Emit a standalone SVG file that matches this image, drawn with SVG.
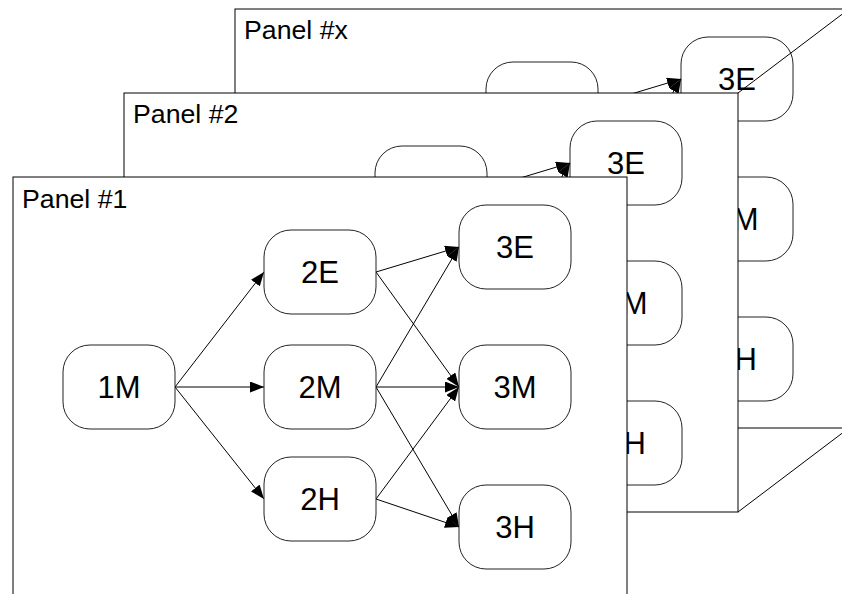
<svg xmlns="http://www.w3.org/2000/svg" width="842" height="594" viewBox="0 0 842 594">
  <defs>
    <marker id="arr" markerUnits="userSpaceOnUse" markerWidth="14" markerHeight="11" refX="14" refY="5.5" orient="auto">
      <path d="M0,0 L14,5.5 L0,11 z" fill="#000"/>
    </marker>
    <style>
      .panel { fill: #fff; stroke: #000; stroke-width: 1; }
      .ptext { font-family: "Liberation Sans", Arial, sans-serif; font-size: 26.7px; fill: #000; }
      .node rect { fill: #fff; stroke: #222; stroke-width: 1; }
      .node text { font-family: "Liberation Sans", Arial, sans-serif; font-size: 31px; fill: #000; text-anchor: middle; }
      .edge { stroke: #000; stroke-width: 1; fill: none; marker-end: url(#arr); }
      .persp { stroke: #000; stroke-width: 1; fill: none; }
    </style>
  </defs>

  <!-- Panel #x (back) -->
  <g id="panel-x">
    <rect class="panel" x="235" y="9" width="614" height="419"/>
    <text class="ptext" x="244" y="39">Panel #x</text>
    <g id="px-2E" class="node"><rect x="486" y="62" width="112" height="84" rx="27" ry="27"/></g>
    <g id="px-3E" class="node"><rect x="681" y="37" width="112" height="84" rx="27" ry="27"/><text x="737" y="90">3E</text></g>
    <g id="px-3M" class="node"><rect x="681" y="177" width="112" height="84" rx="27" ry="27"/><text x="737" y="230">3M</text></g>
    <g id="px-3H" class="node"><rect x="681" y="317" width="112" height="84" rx="27" ry="27"/><text x="737" y="370">3H</text></g>
    <g id="px-connectors">
      <line class="edge" x1="598" y1="104" x2="681" y2="79"/>
      <line class="edge" x1="598" y1="219" x2="681" y2="79"/>
    </g>
  </g>

  <!-- perspective lines -->
  <g id="perspective">
    <line class="persp" x1="738" y1="93" x2="849" y2="9"/>
    <line class="persp" x1="738" y1="512" x2="849" y2="428"/>
  </g>

  <!-- Panel #2 (middle) -->
  <g id="panel-2">
    <rect class="panel" x="124" y="93" width="614" height="419"/>
    <text class="ptext" x="133" y="123">Panel #2</text>
    <g id="p2-2E" class="node"><rect x="375" y="146" width="112" height="84" rx="27" ry="27"/></g>
    <g id="p2-3E" class="node"><rect x="570" y="121" width="112" height="84" rx="27" ry="27"/><text x="626" y="174">3E</text></g>
    <g id="p2-3M" class="node"><rect x="570" y="261" width="112" height="84" rx="27" ry="27"/><text x="626" y="314">3M</text></g>
    <g id="p2-3H" class="node"><rect x="570" y="401" width="112" height="84" rx="27" ry="27"/><text x="626" y="454">3H</text></g>
    <g id="p2-connectors">
      <line class="edge" x1="487" y1="188" x2="570" y2="163"/>
      <line class="edge" x1="487" y1="303" x2="570" y2="163"/>
    </g>
  </g>

  <!-- Panel #1 (front) -->
  <g id="panel-1">
    <rect class="panel" x="13" y="177" width="614" height="419"/>
    <text class="ptext" x="22" y="208">Panel #1</text>
    <g id="connectors">
      <line class="edge" x1="175" y1="387" x2="264" y2="272"/>
      <line class="edge" x1="175" y1="387" x2="264" y2="387"/>
      <line class="edge" x1="175" y1="387" x2="264" y2="499"/>
      <line class="edge" x1="376" y1="272" x2="459" y2="247"/>
      <line class="edge" x1="376" y1="272" x2="459" y2="387"/>
      <line class="edge" x1="376" y1="387" x2="459" y2="247"/>
      <line class="edge" x1="376" y1="387" x2="459" y2="387"/>
      <line class="edge" x1="376" y1="387" x2="459" y2="527"/>
      <line class="edge" x1="376" y1="499" x2="459" y2="387"/>
      <line class="edge" x1="376" y1="499" x2="459" y2="527"/>
    </g>
    <g id="n-1M" class="node"><rect x="63" y="345" width="112" height="84" rx="27" ry="27"/><text x="119" y="398">1M</text></g>
    <g id="n-2E" class="node"><rect x="264" y="230" width="112" height="84" rx="27" ry="27"/><text x="320" y="283">2E</text></g>
    <g id="n-2M" class="node"><rect x="264" y="345" width="112" height="84" rx="27" ry="27"/><text x="320" y="398">2M</text></g>
    <g id="n-2H" class="node"><rect x="264" y="457" width="112" height="84" rx="27" ry="27"/><text x="320" y="510">2H</text></g>
    <g id="n-3E" class="node"><rect x="459" y="205" width="112" height="84" rx="27" ry="27"/><text x="515" y="258">3E</text></g>
    <g id="n-3M" class="node"><rect x="459" y="345" width="112" height="84" rx="27" ry="27"/><text x="515" y="398">3M</text></g>
    <g id="n-3H" class="node"><rect x="459" y="485" width="112" height="84" rx="27" ry="27"/><text x="515" y="538">3H</text></g>
  </g>
</svg>
